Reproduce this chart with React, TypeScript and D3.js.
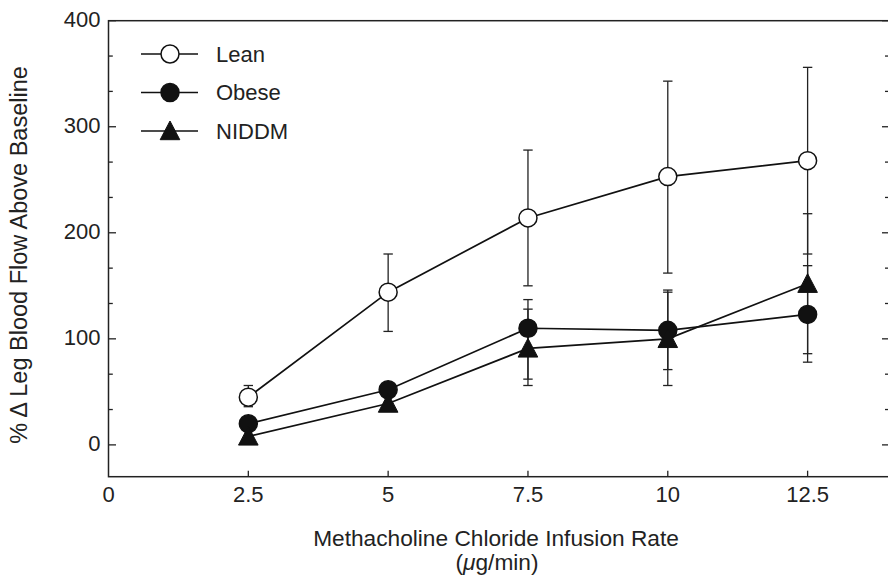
import React from 'react';
import * as d3 from 'd3';

// Methacholine dose (µg/min)
const doses = [2.5, 5, 7.5, 10, 12.5];

// % change in leg blood flow above baseline, mean with upper / lower error
const leanMean = [45, 144, 214, 253, 268];
const leanErrUp = [11, 36, 64, 90, 88];
const leanErrDown = [9, 37, 64, 91, 88];

const obeseMean = [20, 52, 110, 108, 123];
const obeseErrUp = [5, 6, 27, 38, 46];
const obeseErrDown = [5, 6, 48, 37, 45];

const niddmMean = [8, 39, 91, 100, 152];
const niddmErrUp = [5, 6, 37, 44, 66];
const niddmErrDown = [5, 6, 35, 44, 66];

const seriesNames = ['Lean', 'Obese', 'NIDDM'];

const xTicks = [0, 2.5, 5, 7.5, 10, 12.5];
const yTicks = [0, 100, 200, 300, 400];

const W = 888;
const H = 577;
const FONT = '"Liberation Sans", Arial, Helvetica, sans-serif';

type Pt = { x: number; y: number; up: number; down: number };

const build = (mean: number[], up: number[], down: number[]): Pt[] =>
  doses.map((d, i) => ({ x: d, y: mean[i], up: up[i], down: down[i] }));

const series = [
  { name: seriesNames[0], marker: 'open', pts: build(leanMean, leanErrUp, leanErrDown) },
  { name: seriesNames[1], marker: 'filled', pts: build(obeseMean, obeseErrUp, obeseErrDown) },
  { name: seriesNames[2], marker: 'triangle', pts: build(niddmMean, niddmErrUp, niddmErrDown) },
];

const R = 9;

function Marker({ kind, cx, cy }: { kind: string; cx: number; cy: number }) {
  if (kind === 'triangle') {
    const p = d3.path();
    p.moveTo(cx, cy - 10);
    p.lineTo(cx + 9.8, cy + 8.7);
    p.lineTo(cx - 9.8, cy + 8.7);
    p.closePath();
    return <path d={p.toString()} fill="#111" stroke="#111" strokeWidth={1} />;
  }
  return (
    <circle
      cx={cx}
      cy={cy}
      r={R}
      fill={kind === 'open' ? '#fff' : '#111'}
      stroke="#111"
      strokeWidth={1.5}
    />
  );
}

export default function App() {
  const x = d3.scaleLinear().domain([0, 14]).range([108.5, 891.5]);
  const y = d3.scaleLinear().domain([-30, 400]).range([476.7, 20.7]);

  const line = d3
    .line<Pt>()
    .x((d) => x(d.x))
    .y((d) => y(d.y));

  const minorY = d3.range(0, 13).map((k) => (k * 100) / 3);
  const x0 = x(0);
  const x1 = x(14);
  const yTop = y(400);
  const yBot = y(-30);
  const capHalf = 4.7;

  const legendRows = [54, 92.5, 131];

  return (
    <svg
      width={W}
      height={H}
      style={{ position: 'absolute', left: 0, top: 0, background: '#fff' }}
      fontFamily={FONT}
    >
      <rect x={0} y={0} width={W} height={H} fill="#fff" />

      {/* plot frame */}
      <rect
        x={x0}
        y={yTop}
        width={x1 - x0}
        height={yBot - yTop}
        fill="none"
        stroke="#222"
        strokeWidth={1.5}
      />

      {/* y ticks, inward on both sides */}
      {minorY.map((v, i) => {
        const major = i % 3 === 0;
        const yy = y(v);
        return (
          <g key={'yt' + i}>
            <line x1={x0} x2={x0 + (major ? 7.5 : 4.3)} y1={yy} y2={yy} stroke="#222" strokeWidth={1.3} />
            <line x1={x1} x2={x1 - (major ? 9.5 : 6.5)} y1={yy} y2={yy} stroke="#222" strokeWidth={1.3} />
          </g>
        );
      })}

      {/* y tick labels */}
      {yTicks.map((v) => (
        <text
          key={'yl' + v}
          x={x0 - 8}
          y={y(v)}
          dy="0.3em"
          textAnchor="end"
          fontSize={22}
          fill="#222"
        >
          {v}
        </text>
      ))}

      {/* x ticks and labels */}
      {xTicks.map((v) => (
        <g key={'xt' + v}>
          {v > 0 && (
            <line x1={x(v)} x2={x(v)} y1={yBot} y2={yBot - 6} stroke="#222" strokeWidth={1.3} />
          )}
          <text x={x(v)} y={yBot + 25} textAnchor="middle" fontSize={22} fill="#222">
            {v}
          </text>
        </g>
      ))}

      {/* axis titles */}
      <text x={496} y={546} textAnchor="middle" fontSize={22.7} fill="#222">
        Methacholine Chloride Infusion Rate
      </text>
      <text x={497} y={570} textAnchor="middle" fontSize={22.7} fill="#222">
        (<tspan fontStyle="italic">μ</tspan>g/min)
      </text>
      <text
        transform={`translate(27, 255) rotate(-90)`}
        textAnchor="middle"
        fontSize={23.5}
        fill="#222"
      >
        % Δ Leg Blood Flow Above Baseline
      </text>

      {/* error bars */}
      {series.map((s) =>
        s.pts.map((p, i) => {
          const cx = x(p.x);
          const yHi = y(p.y + p.up);
          const yLo = y(p.y - p.down);
          return (
            <g key={s.name + 'e' + i} stroke="#222" strokeWidth={1.3}>
              <line x1={cx} x2={cx} y1={yHi} y2={yLo} />
              <line x1={cx - capHalf} x2={cx + capHalf} y1={yHi} y2={yHi} />
              <line x1={cx - capHalf} x2={cx + capHalf} y1={yLo} y2={yLo} />
            </g>
          );
        })
      )}

      {/* connecting lines */}
      {series.map((s) => (
        <path key={s.name + 'l'} d={line(s.pts) || ''} fill="none" stroke="#111" strokeWidth={1.7} />
      ))}

      {/* markers */}
      {series.map((s) =>
        s.pts.map((p, i) => <Marker key={s.name + 'm' + i} kind={s.marker} cx={x(p.x)} cy={y(p.y)} />)
      )}

      {/* legend */}
      {series.map((s, i) => (
        <g key={s.name + 'lg'}>
          <line x1={141} x2={198} y1={legendRows[i]} y2={legendRows[i]} stroke="#111" strokeWidth={1.5} />
          <Marker kind={s.marker} cx={170} cy={legendRows[i]} />
          <text x={216} y={legendRows[i]} dy="0.36em" fontSize={22} fill="#222">
            {s.name}
          </text>
        </g>
      ))}
    </svg>
  );
}
